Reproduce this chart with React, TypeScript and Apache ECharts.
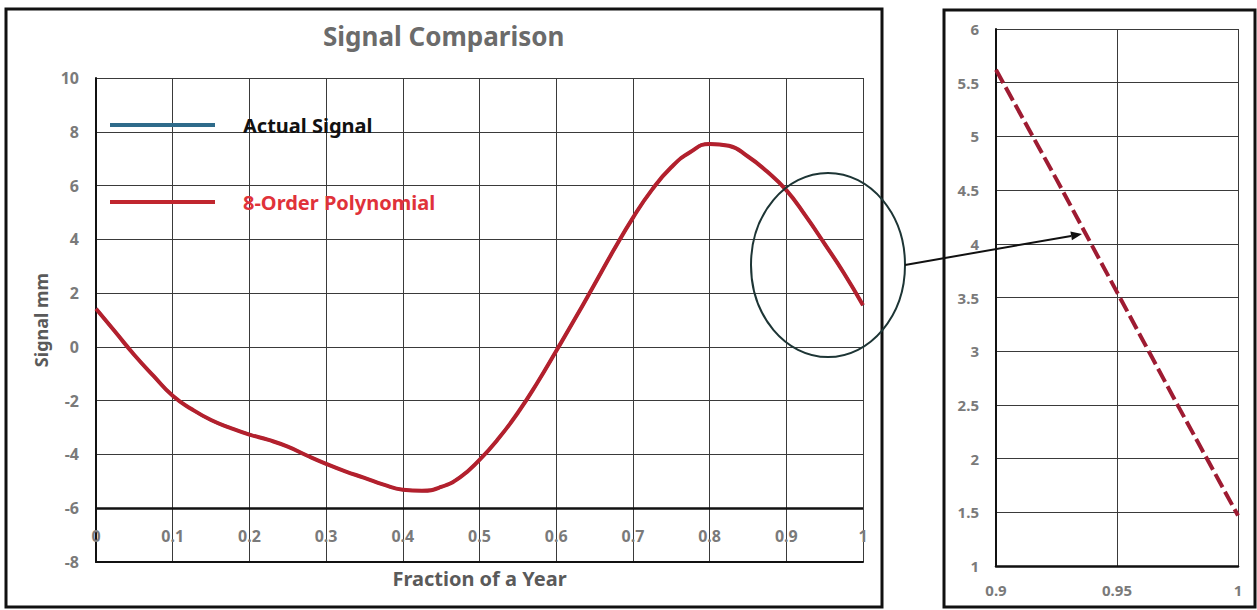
import React, { useEffect, useRef } from "react";
import * as echarts from "echarts";

// ---- data ----
const fracX = [
  0, 0.025, 0.05, 0.075, 0.1, 0.125, 0.15, 0.175, 0.2, 0.225, 0.25, 0.275, 0.3, 0.325, 0.35, 0.375, 0.4,
  0.425, 0.45, 0.475, 0.5, 0.525, 0.55, 0.575, 0.6, 0.625, 0.65, 0.675, 0.7, 0.725, 0.75, 0.775, 0.8,
  0.825, 0.85, 0.875, 0.9, 0.925, 0.95, 0.975, 1,
];
const polyY = [
  1.42, 0.56, -0.3, -1.08, -1.82, -2.32, -2.72, -3.01, -3.26, -3.46, -3.71, -4.04, -4.35, -4.63, -4.87, -5.12, -5.31,
  -5.35, -5.21, -4.84, -4.2, -3.4, -2.45, -1.35, -0.15, 1.07, 2.33, 3.6, 4.8, 5.85, 6.68, 7.25, 7.55,
  7.48, 7.08, 6.52, 5.83, 4.88, 3.83, 2.75, 1.55,
];
const actualY = [
  1.42, 0.56, -0.3, -1.08, -1.82, -2.32, -2.72, -3.01, -3.26, -3.46, -3.71, -4.04, -4.35, -4.63, -4.87, -5.12, -5.31,
  -5.35, -5.21, -4.84, -4.2, -3.4, -2.45, -1.35, -0.15, 1.07, 2.33, 3.6, 4.8, 5.85, 6.68, 7.25, 7.55,
  7.48, 7.08, 6.52, 5.83, 4.88, 3.83, 2.75, 1.55,
];
const insetX = [0.9, 0.925, 0.95, 0.975, 1];
const insetY = [5.62, 4.6, 3.55, 2.5, 1.47];

const TITLE = "Signal Comparison";
const SERIES_ACTUAL = "Actual Signal";
const SERIES_POLY = "8-Order Polynomial";
const X_NAME = "Fraction of a Year";
const Y_NAME = "Signal mm";

const FONT = "'Noto Sans', 'Open Sans', sans-serif";

export default function App() {
  const ref = useRef<HTMLDivElement>(null);
  useEffect(() => {
    if (!ref.current) return;
    const chart = echarts.init(ref.current, undefined, { renderer: "svg" });

    const pair = (xs: number[], ys: number[]) => xs.map((x, i) => [x, ys[i]]);

    // arrow geometry
    const ax0 = 905, ay0 = 265, ax1 = 1082, ay1 = 234;
    const dx = ax1 - ax0, dy = ay1 - ay0;
    const len = Math.sqrt(dx * dx + dy * dy);
    const ux = dx / len, uy = dy / len;
    const nx = -uy, ny = ux;
    const hl = 11, hw = 4.5;
    const bx = ax1 - ux * hl, by = ay1 - uy * hl;

    const gridLine = { show: true, lineStyle: { color: "#3a3a3a", width: 1 } };
    const tickLabel = { color: "#7a7a7a", fontWeight: "bold" as const, fontSize: 16, fontFamily: FONT };

    chart.setOption({
      animation: false,
      backgroundColor: "#ffffff",
      title: {
        text: TITLE,
        left: 323,
        top: 23,
        padding: 0,
        textStyle: { color: "#6b6b6b", fontSize: 26, fontWeight: "bold", fontFamily: FONT },
      },
      legend: {
        data: [
          { name: SERIES_ACTUAL, textStyle: { color: "#111111" } },
          { name: SERIES_POLY, textStyle: { color: "#e0323a" } },
        ],
        orient: "vertical",
        left: 110,
        top: 115,
        padding: 0,
        itemWidth: 105,
        itemHeight: 4,
        itemGap: 57,
        icon: "rect",
        textStyle: { fontSize: 20, fontWeight: "bold", fontFamily: FONT, padding: [0, 0, 0, 23] },
      },
      grid: [
        { left: 96, right: 394, top: 78, bottom: 48 },
        { left: 996, right: 19, top: 29, bottom: 44 },
      ],
      xAxis: [
        {
          type: "value",
          gridIndex: 0,
          min: 0,
          max: 1,
          interval: 0.1,
          name: X_NAME,
          nameLocation: "middle",
          nameGap: 6,
          nameTextStyle: { color: "#5a5a5a", fontSize: 20, fontWeight: "bold", fontFamily: FONT, verticalAlign: "top" },
          axisLine: { show: true, onZero: false, lineStyle: { color: "#111", width: 2 } },
          axisTick: { show: false },
          axisLabel: { ...tickLabel, inside: true, margin: 18 },
          splitLine: gridLine,
        },
        {
          type: "value",
          gridIndex: 1,
          min: 0.9,
          max: 1,
          interval: 0.05,
          axisLine: { show: true, onZero: false, lineStyle: { color: "#111", width: 2.5 } },
          axisTick: { show: false },
          axisLabel: { ...tickLabel, fontSize: 15, margin: 16, formatter: (v: number) => String(Math.round(v * 100) / 100) },
          splitLine: gridLine,
        },
      ],
      yAxis: [
        {
          type: "value",
          gridIndex: 0,
          min: -8,
          max: 10,
          interval: 2,
          name: Y_NAME,
          nameLocation: "middle",
          nameGap: 45,
          nameTextStyle: { color: "#5a5a5a", fontSize: 18, fontWeight: "bold", fontFamily: FONT },
          axisLine: { show: true, onZero: false, lineStyle: { color: "#111", width: 2 } },
          axisTick: { show: false },
          axisLabel: { ...tickLabel, margin: 17 },
          splitLine: gridLine,
        },
        {
          type: "value",
          gridIndex: 1,
          min: 1,
          max: 6,
          interval: 0.5,
          axisLine: { show: true, onZero: false, lineStyle: { color: "#111", width: 2 } },
          axisTick: { show: false },
          axisLabel: { ...tickLabel, fontSize: 15, margin: 17 },
          splitLine: gridLine,
        },
      ],
      series: [
        {
          name: SERIES_ACTUAL,
          type: "line",
          xAxisIndex: 0,
          yAxisIndex: 0,
          data: pair(fracX, actualY),
          smooth: 0.5,
          showSymbol: false,
          color: "#2e6b8a",
          lineStyle: { width: 3, color: "#2e6b8a" },
          z: 2,
        },
        {
          name: SERIES_POLY,
          type: "line",
          xAxisIndex: 0,
          yAxisIndex: 0,
          data: pair(fracX, polyY),
          smooth: 0.5,
          showSymbol: false,
          color: "#c0262e",
          lineStyle: { width: 4, color: "#b3202d" },
          z: 3,
          markLine: {
            silent: true,
            symbol: "none",
            label: { show: false },
            lineStyle: { color: "#111", width: 2.5, type: "solid" },
            data: [{ yAxis: -6 }],
          },
        },
        {
          name: "Zoom",
          type: "line",
          xAxisIndex: 1,
          yAxisIndex: 1,
          data: pair(insetX, insetY),
          showSymbol: false,
          color: "#9e1b32",
          lineStyle: { width: 4, color: "#9e1b32", type: [15, 5] },
          z: 3,
        },
      ],
      graphic: [
        {
          type: "rect",
          shape: { x: 6, y: 9, width: 876, height: 598 },
          style: { fill: "none", stroke: "#111", lineWidth: 3 },
          silent: true,
        },
        {
          type: "rect",
          shape: { x: 944, y: 10, width: 311, height: 597 },
          style: { fill: "none", stroke: "#111", lineWidth: 3 },
          silent: true,
        },
        {
          type: "ellipse",
          shape: { cx: 828, cy: 265, rx: 77, ry: 92 },
          style: { fill: "none", stroke: "#1d3535", lineWidth: 2 },
          z: 100,
          silent: true,
        },
        {
          type: "line",
          shape: { x1: ax0, y1: ay0, x2: bx, y2: by },
          style: { stroke: "#111", lineWidth: 2 },
          z: 100,
          silent: true,
        },
        {
          type: "polygon",
          shape: {
            points: [
              [ax1, ay1],
              [bx + nx * hw, by + ny * hw],
              [bx - nx * hw, by - ny * hw],
            ],
          },
          style: { fill: "#111" },
          z: 100,
          silent: true,
        },
      ],
    });

    return () => chart.dispose();
  }, []);

  return (
    <div
      ref={ref}
      style={{ position: "absolute", left: 0, top: 0, width: 1257, height: 610, background: "#fff" }}
    />
  );
}
